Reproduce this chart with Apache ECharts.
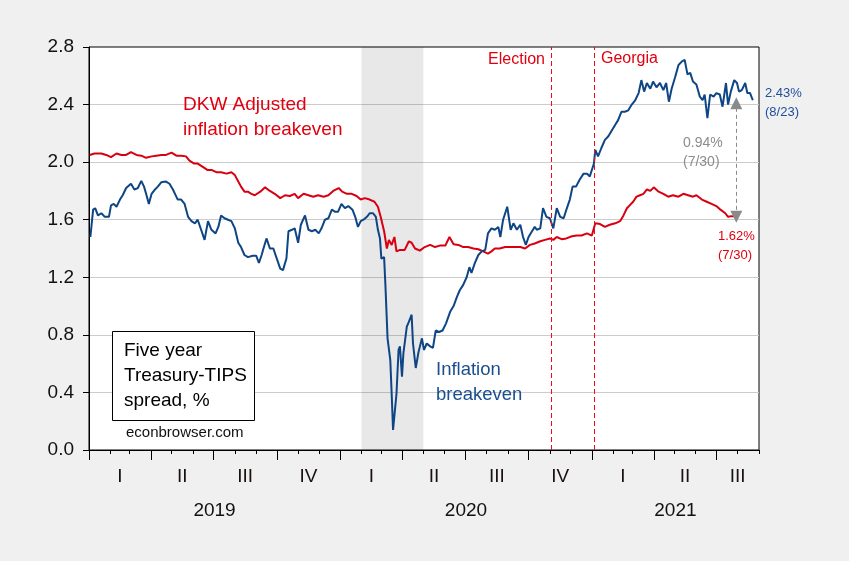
<!DOCTYPE html>
<html>
<head>
<meta charset="utf-8">
<script src="https://cdn.jsdelivr.net/npm/echarts@6/dist/echarts.min.js"></script>
<style>
html,body{margin:0;padding:0;background:#f0f0f0;}
#chart{width:849px;height:561px;}
</style>
</head>
<body>
<div id="chart"></div>
<script>
// ---- data (day offsets counted from 2019-01-01, value in %) ----
const baseDate = '2019-01-01';
const axisStart = '2019-01-01';
const axisEnd = '2021-09-01';

const inflationBreakeven = [
[2,1.48],[6,1.67],[9,1.68],[13,1.63],[18,1.645],[23,1.62],[29,1.62],[32,1.70],[36,1.71],[40,1.69],
[45,1.74],[49,1.77],[54,1.82],[61,1.85],[66,1.81],[71,1.82],[76,1.87],[80,1.83],[83,1.78],[87,1.71],
[91,1.78],[96,1.81],[100,1.83],[105,1.86],[112,1.865],[117,1.85],[122,1.81],[125,1.78],[129,1.74],[134,1.74],
[139,1.71],[144,1.62],[149,1.59],[154,1.575],[158,1.60],[163,1.53],[168,1.46],[173,1.59],[178,1.53],[184,1.505],
[188,1.55],[192,1.63],[197,1.61],[202,1.60],[207,1.59],[212,1.54],[217,1.44],[221,1.41],[226,1.355],[231,1.34],
[238,1.35],[243,1.35],[247,1.30],[251,1.355],[253,1.39],[258,1.47],[263,1.40],[268,1.40],[273,1.33],[278,1.26],
[282,1.25],[287,1.33],[290,1.52],[295,1.53],[299,1.54],[304,1.44],[308,1.565],[314,1.63],[319,1.53],[324,1.52],
[329,1.53],[334,1.505],[338,1.54],[343,1.60],[348,1.61],[353,1.67],[358,1.655],[362,1.655],[367,1.71],[372,1.68],
[377,1.695],[383,1.67],[387,1.62],[391,1.55],[395,1.59],[399,1.60],[404,1.62],[408,1.645],[413,1.645],[417,1.62],
[420,1.53],[423,1.47],[425,1.33],[429,1.34],[431,1.135],[434,0.776],[438,0.625],[440,0.39],[442,0.14],[444,0.15],
[447,0.39],[450,0.695],[452,0.72],[455,0.51],[457,0.67],[462,0.857],[465,0.89],[469,0.94],[471,0.74],[475,0.57],
[479,0.68],[484,0.776],[487,0.695],[491,0.74],[496,0.72],[500,0.71],[504,0.83],[509,0.82],[514,0.83],[519,0.88],
[525,0.96],[530,1.0],[535,1.065],[539,1.11],[544,1.147],[549,1.20],[553,1.27],[556,1.23],[561,1.30],[566,1.355],
[571,1.38],[576,1.39],[580,1.505],[585,1.54],[590,1.53],[595,1.55],[598,1.48],[602,1.60],[608,1.69],[613,1.53],
[617,1.575],[622,1.53],[627,1.565],[631,1.48],[635,1.425],[639,1.48],[644,1.52],[648,1.55],[651,1.53],[656,1.54],
[660,1.68],[665,1.62],[670,1.61],[675,1.54],[680,1.68],[685,1.62],[690,1.61],[694,1.67],[699,1.74],[703,1.83],
[708,1.83],[713,1.876],[719,1.92],[724,1.92],[728,1.90],[731,1.945],[734,1.99],[736,2.085],[740,2.04],[745,2.10],
[750,2.155],[755,2.18],[760,2.22],[765,2.26],[769,2.29],[774,2.35],[779,2.35],[784,2.36],[789,2.40],[794,2.43],
[799,2.48],[803,2.57],[807,2.49],[811,2.55],[816,2.51],[820,2.56],[825,2.52],[830,2.55],[835,2.50],[839,2.55],
[843,2.42],[847,2.51],[852,2.59],[857,2.675],[862,2.70],[866,2.71],[870,2.61],[874,2.62],[878,2.56],[883,2.54],
[888,2.455],[892,2.43],[895,2.47],[899,2.305],[903,2.47],[908,2.455],[912,2.48],[917,2.47],[921,2.385],[926,2.55],
[929,2.40],[933,2.49],[938,2.57],[942,2.55],[945,2.49],[949,2.50],[954,2.55],[957,2.48],[961,2.48],[965,2.43]
];

const dkwBreakeven = [
[1,2.05],[8,2.06],[18,2.06],[25,2.05],[32,2.035],[40,2.06],[47,2.05],[54,2.05],[61,2.07],[69,2.05],
[76,2.045],[83,2.03],[91,2.04],[98,2.045],[105,2.05],[112,2.05],[120,2.066],[127,2.045],[134,2.045],[141,2.04],
[146,2.01],[153,1.99],[158,1.99],[166,1.965],[172,1.946],[178,1.946],[185,1.93],[192,1.93],[200,1.92],[207,1.93],
[212,1.91],[217,1.865],[221,1.83],[226,1.795],[231,1.795],[236,1.78],[241,1.77],[249,1.795],[256,1.825],[263,1.80],
[270,1.78],[278,1.75],[285,1.77],[292,1.765],[299,1.78],[304,1.75],[312,1.78],[319,1.77],[326,1.76],[333,1.77],
[341,1.76],[348,1.77],[355,1.80],[363,1.82],[368,1.795],[375,1.78],[382,1.78],[389,1.765],[395,1.74],[401,1.75],
[408,1.74],[415,1.725],[420,1.69],[424,1.62],[429,1.52],[433,1.40],[436,1.46],[440,1.425],[444,1.48],[447,1.38],
[452,1.39],[459,1.39],[465,1.45],[469,1.44],[474,1.40],[481,1.385],[488,1.41],[496,1.425],[503,1.41],[510,1.42],
[518,1.42],[524,1.48],[530,1.43],[537,1.425],[544,1.41],[551,1.41],[559,1.40],[566,1.395],[573,1.38],[580,1.365],
[585,1.38],[590,1.40],[597,1.40],[605,1.41],[612,1.41],[619,1.41],[627,1.41],[634,1.40],[641,1.425],[648,1.435],
[656,1.45],[663,1.46],[670,1.47],[675,1.46],[680,1.48],[687,1.465],[694,1.47],[702,1.485],[709,1.49],[716,1.49],
[724,1.505],[731,1.49],[736,1.575],[743,1.57],[750,1.55],[757,1.565],[765,1.575],[772,1.59],[777,1.63],[782,1.68],
[786,1.70],[791,1.725],[796,1.76],[801,1.77],[806,1.78],[811,1.81],[816,1.80],[821,1.825],[828,1.795],[835,1.78],
[842,1.76],[849,1.77],[857,1.76],[864,1.78],[871,1.77],[878,1.76],[883,1.77],[891,1.74],[898,1.725],[905,1.71],
[912,1.695],[918,1.67],[925,1.645],[929,1.62],[934,1.625],[941,1.62]
];

const recessionPeriod = ['2020-02-01', '2020-05-01'];
const eventDates = ['2020-11-03', '2021-01-05'];
const eventNames = ['Election', 'Georgia'];
const gapDate = '2021-07-30';
const gapRange = [1.62, 2.41];
const quarterLabels = ['I', 'II', 'III', 'IV'];
const yTickValues = [0, 0.4, 0.8, 1.2, 1.6, 2.0, 2.4, 2.8];

// ---- helpers ----
function ts(s) { const p = s.split('-').map(Number); return Date.UTC(p[0], p[1] - 1, p[2]); }
const T0 = ts(axisStart), T1 = ts(axisEnd), TB = ts(baseDate);
const dayTs = d => TB + d * 86400000;

const monthTicks = [], quarterTicks = [], quarterMids = [], yearMids = [];
for (let y = 2019; y <= 2021; y++) {
  for (let m = 0; m < 12; m++) {
    const t = Date.UTC(y, m, 1);
    if (t > T1) break;
    monthTicks.push(t);
    if (m % 3 === 0) {
      quarterTicks.push(t);
      const e = Math.min(Date.UTC(y, m + 3, 1), T1);
      if (e > t) quarterMids.push((t + e) / 2);
    }
  }
  const ys = Math.max(Date.UTC(y, 0, 1), T0), ye = Math.min(Date.UTC(y + 1, 0, 1), T1);
  yearMids.push((ys + ye) / 2);
}

const FONT = '"Liberation Sans", Arial, Helvetica, sans-serif';
const RED = '#e0000f';
const BLUE = '#0e4585';

const chart = echarts.init(document.getElementById('chart'), null, { renderer: 'canvas' });

const TZ = 100;
const option = {
  animation: false,
  backgroundColor: '#f0f0f0',
  textStyle: { fontFamily: FONT },
  grid: {
    left: 89, right: 90, top: 47, bottom: 111,
    show: true, backgroundColor: '#ffffff', borderColor: '#000000', borderWidth: 1,
    containLabel: false, outerBoundsMode: 'none'
  },
  xAxis: [
    {
      type: 'value', min: T0, max: T1, position: 'bottom', offset: 0, scale: true,
      axisLine: { show: true, onZero: false, lineStyle: { color: '#000', width: 1 } },
      axisTick: { show: true, customValues: monthTicks, length: 4, inside: false, lineStyle: { color: '#000' } },
      axisLabel: {
        show: true, customValues: quarterMids, margin: 17, fontSize: 19, color: '#1a1010', fontFamily: FONT,
        formatter: v => quarterLabels[Math.floor(new Date(v).getUTCMonth() / 3)]
      },
      splitLine: { show: false }
    },
    {
      type: 'value', min: T0, max: T1, position: 'bottom', offset: 0, scale: true,
      axisLine: { show: false, onZero: false },
      axisTick: { show: true, customValues: quarterTicks, length: 10, inside: false, lineStyle: { color: '#000' } },
      axisLabel: {
        show: true, customValues: yearMids, margin: 51, fontSize: 19, color: '#111', fontFamily: FONT,
        formatter: v => String(new Date(v).getUTCFullYear())
      },
      splitLine: { show: false }
    }
  ],
  yAxis: {
    type: 'value', min: yTickValues[0], max: yTickValues[yTickValues.length - 1], interval: 0.4,
    axisLine: { show: true, lineStyle: { color: '#000', width: 1 } },
    axisTick: { show: true, length: 6, inside: false, lineStyle: { color: '#000' } },
    axisLabel: { fontSize: 19, color: '#111', margin: 15, fontFamily: FONT, formatter: v => v.toFixed(1) },
    splitLine: { show: true, showMinLine: false, showMaxLine: false, lineStyle: { color: '#cccccc', width: 1 } }
  },
  series: [
    {
      name: 'DKW Adjusted inflation breakeven', type: 'line', xAxisIndex: 0,
      showSymbol: false, symbol: 'none',
      lineStyle: { color: '#d80010', width: 2 },
      data: dkwBreakeven.map(p => [dayTs(p[0]), p[1]]),
      markArea: {
        silent: true, z: 1,
        itemStyle: { color: 'rgba(0,0,0,0.09)' },
        data: [[{ xAxis: ts(recessionPeriod[0]) }, { xAxis: ts(recessionPeriod[1]) }]]
      },
      markLine: {
        silent: true, symbol: ['none', 'none'],
        label: { show: false },
        lineStyle: { color: '#e8101a', type: [5, 3], width: 1 },
        data: eventDates.map(d => ({ xAxis: ts(d) }))
      }
    },
    {
      name: 'Inflation breakeven', type: 'line', xAxisIndex: 0,
      showSymbol: false, symbol: 'none',
      lineStyle: { color: BLUE, width: 2 },
      data: inflationBreakeven.map(p => [dayTs(p[0]), p[1]]),
      markLine: {
        silent: true, symbol: ['triangle', 'triangle'], symbolSize: [12, 12],
        label: { show: false },
        lineStyle: { color: '#8a8a8a', type: [4, 3], width: 1 },
        itemStyle: { color: '#8a8a8a' },
        data: [[{ coord: [ts(gapDate), gapRange[0]] }, { coord: [ts(gapDate), gapRange[1]] }]]
      }
    }
  ],
  graphic: [
    { type: 'text', left: 183, top: 92, z: TZ, style: { text: 'DKW Adjusted\ninflation breakeven', fill: RED, font: '19px ' + FONT, lineHeight: 25 } },
    { type: 'text', right: 849 - 545, top: 52, z: TZ, style: { text: eventNames[0], fill: RED, font: '16px ' + FONT } },
    { type: 'text', left: 601, top: 51, z: TZ, style: { text: eventNames[1], fill: RED, font: '16px ' + FONT } },
    { type: 'text', left: 765, top: 84, z: TZ, style: { text: '2.43%\n(8/23)', fill: '#1f4e9c', font: '13px ' + FONT, lineHeight: 19 } },
    { type: 'text', left: 683, top: 134, z: TZ, style: { text: '0.94%\n(7/30)', fill: '#8c8c8c', font: '14px ' + FONT, lineHeight: 19 } },
    { type: 'text', left: 718, top: 227, z: TZ, style: { text: '1.62%\n(7/30)', fill: RED, font: '13px ' + FONT, lineHeight: 19 } },
    { type: 'text', left: 436, top: 357, z: TZ, style: { text: 'Inflation\nbreakeven', fill: '#1a4f8f', font: '18.5px ' + FONT, lineHeight: 25 } },
    { type: 'rect', z: TZ, shape: { x: 112.5, y: 331.5, width: 142, height: 89 }, style: { fill: '#fff', stroke: '#000', lineWidth: 1 } },
    { type: 'text', left: 124, top: 338, z: TZ + 1, style: { text: 'Five year\nTreasury-TIPS\nspread, %', fill: '#000', font: '19px ' + FONT, lineHeight: 25 } },
    { type: 'text', left: 126, top: 425, z: TZ, style: { text: 'econbrowser.com', fill: '#111', font: '15px ' + FONT } }
  ]
};

chart.setOption(option);
</script>
</body>
</html>
